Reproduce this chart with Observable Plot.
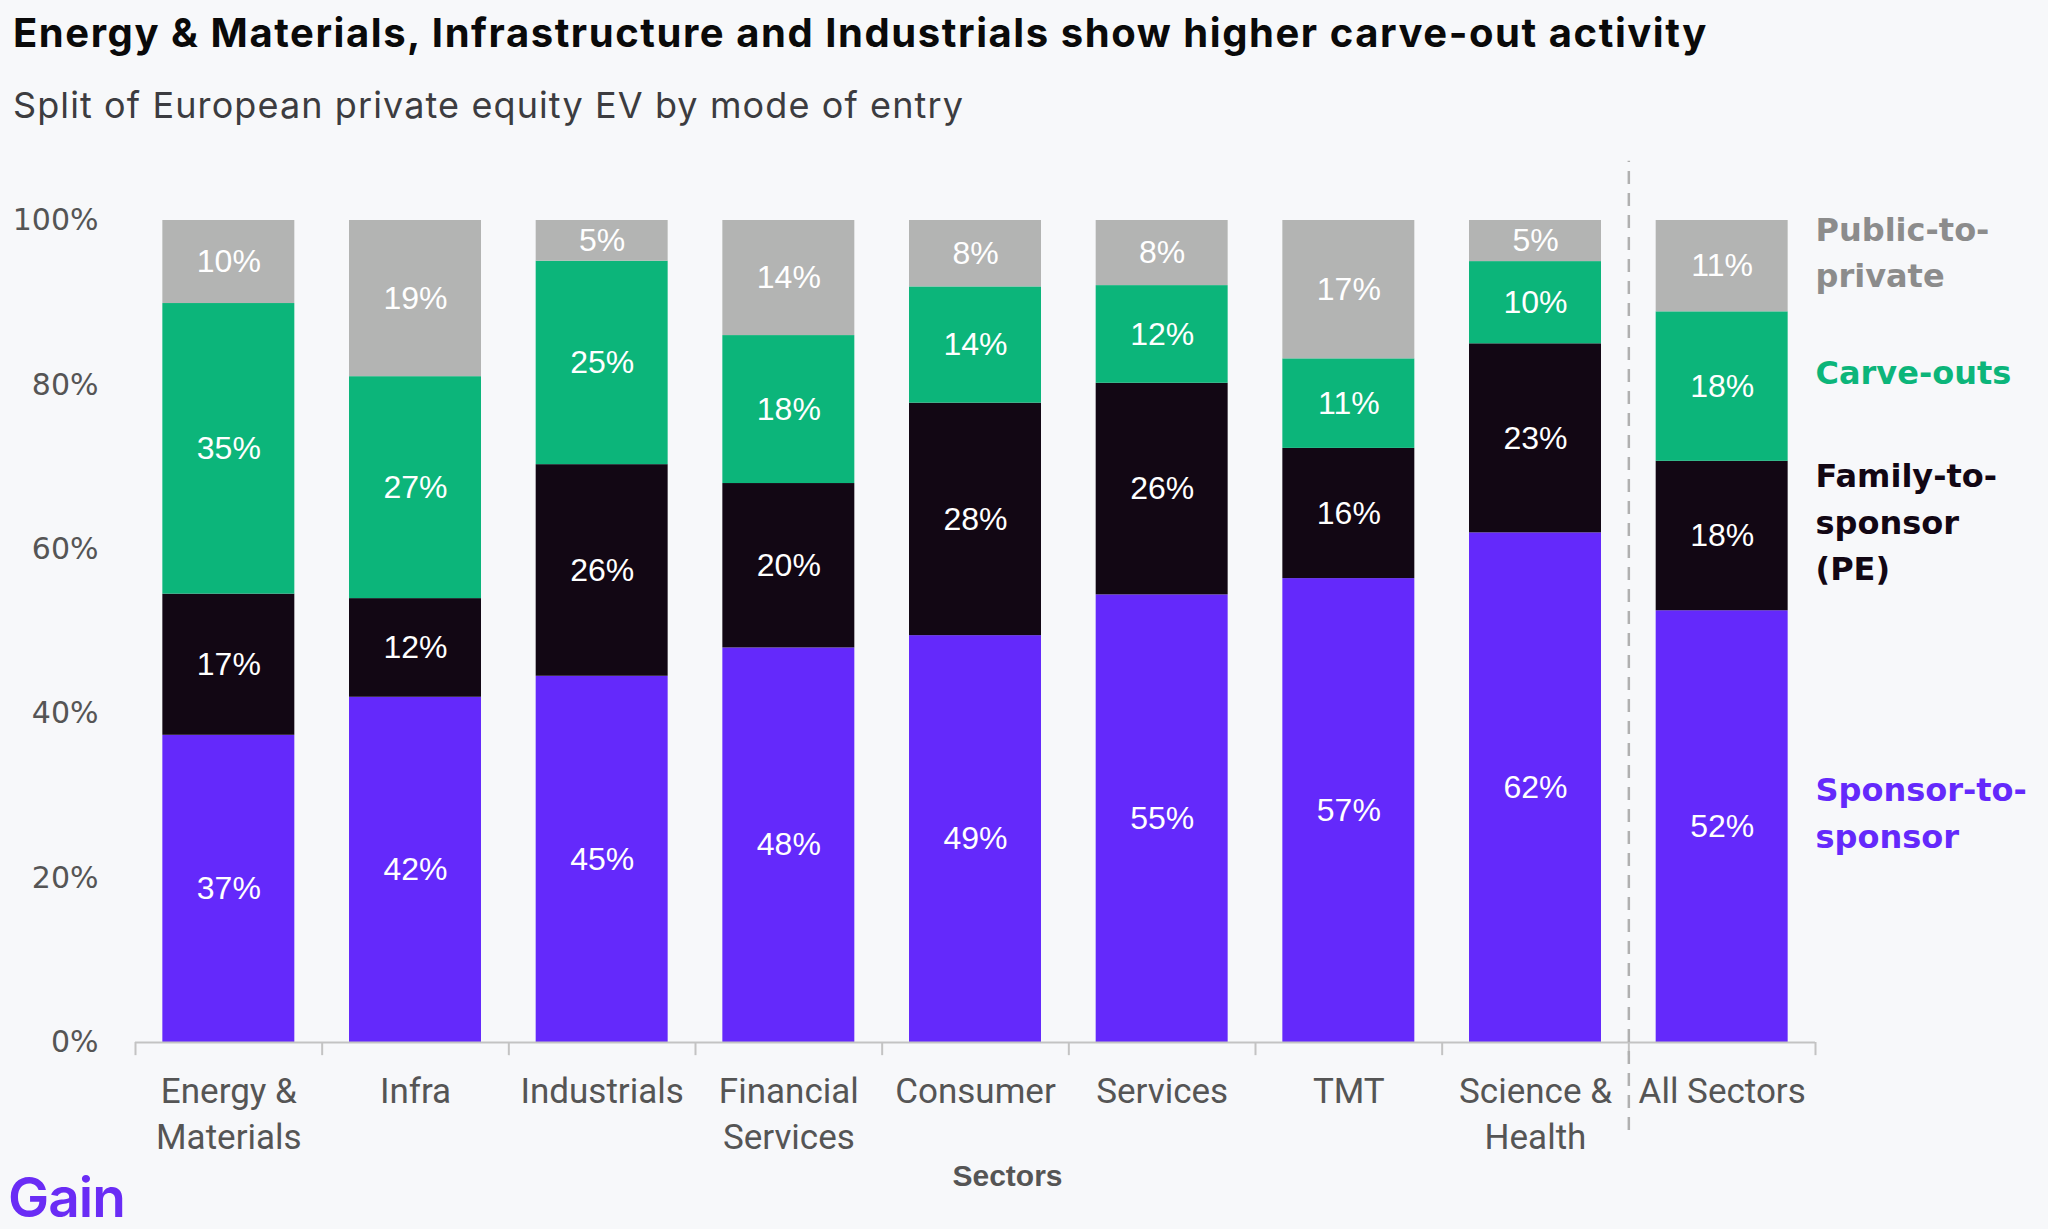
<!DOCTYPE html>
<html>
<head>
<meta charset="utf-8">
<script src="https://cdn.jsdelivr.net/npm/d3@7"></script>
<script src="https://cdn.jsdelivr.net/npm/@observablehq/plot@0.6"></script>
<style>
  html, body { margin: 0; padding: 0; background: #f7f8fa; }
  body { width: 2048px; height: 1229px; position: relative; overflow: hidden; }
  #title { position: absolute; left: 13px; top: 13px; font-family: Inter, sans-serif; font-weight: 700; font-size: 40px; line-height: 40px; color: #0a0a0a; white-space: nowrap; }
  #subtitle { position: absolute; left: 13px; top: 87px; font-family: Inter, sans-serif; font-weight: 400; font-size: 36px; line-height: 36px; color: #3c3c40; white-space: nowrap; }
  #chart { position: absolute; left: 0; top: 140px; }
  #logo { position: absolute; left: 8px; top: 1168px; font-family: Inter, sans-serif; font-weight: 600; font-size: 55px; line-height: 58px; color: #6a2cf5; letter-spacing: -1px; }
</style>
</head>
<body>
<div id="title">Energy &amp; Materials, Infrastructure and Industrials show higher carve-out activity</div>
<div id="subtitle">Split of European private equity EV by mode of entry</div>
<div id="chart"></div>
<div id="logo">Gain</div>
<script>
// ---- data ----
const sectors = ["Energy &\nMaterials", "Infra", "Industrials", "Financial\nServices", "Consumer", "Services", "TMT", "Science &\nHealth", "All Sectors"];
const modes = ["Sponsor-to-sponsor", "Family-to-sponsor (PE)", "Carve-outs", "Public-to-private"];
const sponsorToSponsor = [37, 42, 45, 48, 49, 55, 57, 62, 52];
const familyToSponsor  = [17, 12, 26, 20, 28, 26, 16, 23, 18];
const carveOuts        = [35, 27, 25, 18, 14, 12, 11, 10, 18];
const publicToPrivate  = [10, 19,  5, 14,  8,  8, 17,  5, 11];
const legendLabels = ["Sponsor-to-\nsponsor", "Family-to-\nsponsor\n(PE)", "Carve-outs", "Public-to-\nprivate"];
const yTicks = [0, 0.2, 0.4, 0.6, 0.8, 1];

// ---- styles ----
const barColors = ["#6429fb", "#120714", "#0cb57a", "#b3b4b3"];
const legendColors = ["#6429fb", "#120714", "#0cb57a", "#8c8c8c"];

// fit heading text widths to the reference by letter-spacing
function fitWidth(el, target) {
  const n = el.textContent.length;
  const w = el.getBoundingClientRect().width;
  el.style.letterSpacing = ((target - w) / n) + "px";
}
fitWidth(document.getElementById("title"), 1695);
fitWidth(document.getElementById("subtitle"), 951);

const series = [sponsorToSponsor, familyToSponsor, carveOuts, publicToPrivate];
const rows = [];
modes.forEach((m, i) => sectors.forEach((s, j) => rows.push({sector: s, mode: m, value: series[i][j]})));

const W = 2048, H = 1070, mL = 135, mR = 233, mT = 80, mB = 168;
const step = (W - mL - mR) / sectors.length;
const last = sectors[sectors.length - 1];

const stackOpts = {offset: "normalize", order: modes, x: "sector", y: "value", z: "mode"};

const legendMarks = modes.map((m, i) =>
  Plot.text(rows, Plot.stackY({
    ...stackOpts,
    text: d => (d.mode === m && d.sector === last) ? legendLabels[i] : null,
    fill: legendColors[i],
    textAnchor: "start",
    lineAnchor: "middle",
    dx: step / 2,
    dy: -17,
    lineHeight: 1.45,
    fontFamily: "DejaVu Sans",
    fontWeight: "bold",
    fontSize: 32
  }))
);

const chart = Plot.plot({
  width: W, height: H,
  marginLeft: mL, marginRight: mR, marginTop: mT, marginBottom: mB,
  style: {background: "transparent", overflow: "visible"},
  x: {domain: sectors, paddingInner: 0.293, paddingOuter: 0.1465, round: false, label: null},
  y: {domain: [0, 1], label: null},
  color: {domain: modes, range: barColors},
  marks: [
    Plot.barY(rows, Plot.stackY({...stackOpts, fill: "mode"})),
    Plot.text(rows, Plot.stackY({...stackOpts, text: d => d.value + "%", fill: "white",
      fontFamily: "Liberation Sans", fontSize: 32, letterSpacing: 1.5})),
    // baseline and band-boundary ticks
    Plot.ruleY([0], {stroke: "#c3c3c3", strokeWidth: 2}),
    Plot.ruleX(sectors, {x: d => d, y1: 0, y2: -0.016, dx: -step / 2, stroke: "#c3c3c3", strokeWidth: 2}),
    Plot.ruleX([last], {x: d => d, y1: 0, y2: -0.016, dx: step / 2, stroke: "#c3c3c3", strokeWidth: 2}),
    // dashed separator before "All Sectors"
    Plot.ruleX([last], {x: d => d, y1: -0.107, y2: 1.072, dx: -step / 2, stroke: "#b0b0b0", strokeWidth: 2.5, strokeDasharray: "13,9"}),
    Plot.axisY({ticks: yTicks, tickFormat: d => Math.round(d * 100) + "%", tickSize: 0, tickPadding: 37,
      fontFamily: "DejaVu Sans", fontSize: 30, letterSpacing: 1, fill: "#555", label: null}),
    Plot.axisX({tickSize: 0, tickPadding: 28, fontFamily: "Roboto", fontSize: 35, fill: "#555", lineHeight: 1.31, label: null}),
    Plot.text(["Sectors"], {frameAnchor: "bottom", dy: 143, dx: 32, text: d => d, fontFamily: "Liberation Sans", fontWeight: "bold", fontSize: 30, fill: "#555"}),
    ...legendMarks
  ]
});
document.getElementById("chart").appendChild(chart);
</script>
</body>
</html>
